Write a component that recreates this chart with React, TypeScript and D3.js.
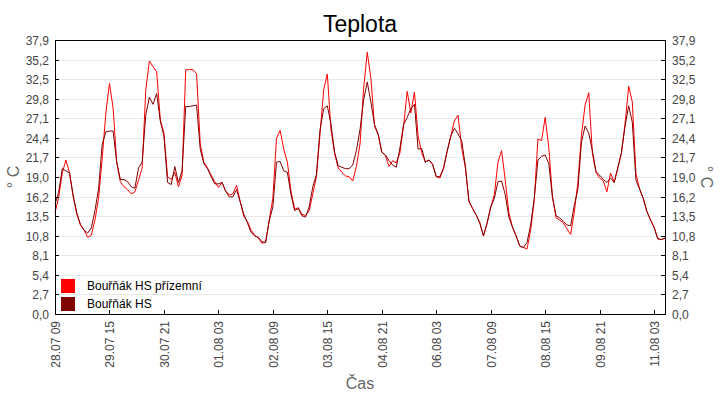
import * as d3 from "d3"
import React from "react"

// Teplota – two sensors, one reading every 2 hours from 28.07 09:00
const seriesNames = ["Bouřňák HS přízemní", "Bouřňák HS"]
const seriesColors = ["#ff0000", "#800000"]

const startLabel = "28.07 09"
const endLabel = "11.08 09"
const stepHours = 2

const prizemni = [
    14.0, 16.1, 19.5, 21.3, 19.5, 16.3, 13.8, 12.3, 11.6, 10.6, 10.9, 13.0, 16.0, 21.5, 27.8, 31.9, 28.5, 21.0, 18.3, 17.6, 17.2,
    16.6, 16.9, 18.5, 20.2, 31.0, 35.0, 34.2, 33.5, 26.9, 25.0, 19.0, 18.6, 19.6, 17.6, 19.2, 33.8, 33.8, 33.8, 33.2, 23.5, 21.0,
    20.2, 19.2, 18.3, 17.5, 18.2, 17.0, 16.5, 16.6, 17.8, 15.6, 13.5, 12.8, 11.6, 10.9, 10.5, 9.8, 9.9, 13.0, 16.0, 24.3, 25.4,
    22.8, 21.0, 17.0, 14.5, 14.7, 13.8, 13.6, 14.3, 16.6, 19.0, 25.0, 31.0, 33.2, 25.6, 22.2, 20.2, 19.6, 19.1, 19.0, 18.4, 20.4,
    23.5, 31.2, 36.2, 32.6, 26.0, 24.8, 22.4, 21.9, 20.4, 21.2, 20.9, 22.3, 26.0, 30.8, 27.8, 30.7, 24.6, 22.3, 21.0, 21.3, 20.7,
    19.0, 18.8, 20.1, 22.5, 24.6, 26.7, 27.5, 23.0, 20.3, 15.6, 14.6, 13.7, 12.6, 10.8, 12.5, 14.8, 16.5, 21.0, 22.6, 18.5, 14.0,
    12.0, 10.8, 9.4, 9.2, 9.0, 11.6, 15.8, 24.2, 24.0, 27.2, 23.0, 16.2, 13.3, 13.0, 12.6, 11.8, 11.0, 14.0, 18.2, 24.8, 28.9,
    30.6, 22.2, 19.6, 18.8, 18.4, 16.9, 19.5, 18.2, 20.2, 22.3, 26.3, 31.5, 29.3, 19.4, 17.3, 16.0, 14.2, 13.0, 12.0, 10.4, 10.3, 10.5
]

const hs = [
    15.2, 16.8, 20.1, 19.8, 19.5, 16.4, 14.0, 12.4, 11.6, 11.2, 11.9, 14.3, 17.3, 23.5, 25.2, 25.3, 25.3, 21.0, 18.6, 18.6, 18.3,
    17.6, 17.4, 20.2, 21.0, 27.5, 30.0, 29.0, 30.5, 26.7, 24.6, 18.2, 17.9, 20.4, 18.2, 19.8, 28.7, 28.7, 28.8, 28.9, 22.8, 20.8,
    20.1, 19.0, 18.0, 18.0, 18.2, 17.0, 16.2, 16.2, 17.2, 15.5, 13.8, 12.6, 11.3, 10.8, 10.6, 10.0, 9.9, 12.9, 14.8, 21.0, 21.1,
    19.8, 19.6, 16.5, 14.3, 14.6, 13.6, 13.4, 14.8, 17.6, 19.3, 25.5, 28.4, 28.8, 26.3, 22.4, 20.5, 20.3, 20.1, 20.1, 20.6, 22.6,
    25.5, 29.6, 32.1, 29.3, 26.2, 24.9, 22.4, 22.0, 21.2, 20.6, 20.3, 23.0, 26.2, 27.2, 28.4, 29.0, 22.8, 22.9, 21.0, 21.3, 20.7,
    19.0, 19.0, 20.2, 22.5, 24.6, 25.7, 24.9, 24.0, 20.5, 15.6, 14.6, 13.7, 12.6, 10.8, 12.6, 14.8, 16.0, 18.3, 18.4, 16.5, 13.4,
    12.0, 10.8, 9.4, 9.2, 9.9, 12.3, 16.0, 21.3, 21.8, 22.0, 20.8, 16.2, 13.6, 13.3, 12.8, 12.3, 12.2, 15.0, 17.2, 23.8, 26.0,
    25.0, 22.6, 19.7, 19.2, 18.6, 18.2, 18.8, 18.2, 20.2, 22.3, 26.0, 28.8, 26.5, 18.5, 17.3, 16.0, 14.2, 13.0, 12.0, 10.4, 10.3, 10.5
]

const xTickLabels = [
    "28.07 09", "29.07 15", "30.07 21", "01.08 03", "02.08 09", "03.08 15",
    "04.08 21", "06.08 03", "07.08 09", "08.08 15", "09.08 21", "11.08 03"
]

const yTickLabels = [
    "0,0", "2,7", "5,4", "8,1", "10,8", "13,5", "16,2", "19,0",
    "21,7", "24,4", "27,1", "29,8", "32,5", "35,2", "37,9"
]

const width = 720
const height = 400
const margin = { top: 40, right: 55, bottom: 86, left: 55 }
const font = "'Liberation Sans', Arial, sans-serif"

const parseLabel = (s: string) => d3.utcParse("%d.%m %H %Y")(s + " 2015") as Date
const parseNum = (s: string) => parseFloat(s.replace(",", "."))

const App = () => {
    const start = parseLabel(startLabel)
    const end = parseLabel(endLabel)

    const x = d3.scaleUtc()
        .domain([start, end])
        .range([margin.left, width - margin.right])

    const y = d3.scaleLinear()
        .domain([0, parseNum(yTickLabels[yTickLabels.length - 1])])
        .range([height - margin.bottom, margin.top])

    const line = d3.line<number>()
        .x((_, i) => x(d3.utcHour.offset(start, i * stepHours)))
        .y((d) => y(d))

    const left = margin.left
    const right = width - margin.right
    const top = margin.top
    const bottom = height - margin.bottom
    const midY = (top + bottom) / 2

    return (
        <svg width={width} height={height}
            style={{ position: "absolute", left: 0, top: 0, background: "#fff" }}
            fontFamily={font}>
            <text x={width / 2} y={32} textAnchor="middle" fontSize={23} fill="#000">Teplota</text>

            {/* grid */}
            {yTickLabels.map((t) => (
                <line key={"g" + t} x1={left} x2={right} y1={Math.round(y(parseNum(t))) + 0.5}
                    y2={Math.round(y(parseNum(t))) + 0.5} stroke="#e8e8e8" />
            ))}

            {/* series */}
            {[prizemni, hs].map((values, i) => (
                <path key={seriesNames[i]} d={line(values)} fill="none"
                    stroke={seriesColors[i]} strokeWidth={1} />
            ))}

            {/* frame */}
            <rect x={left + 0.5} y={top + 0.5} width={right - left} height={bottom - top}
                fill="none" stroke="#000" />

            {/* y ticks, both sides */}
            {yTickLabels.map((t) => {
                const yy = Math.round(y(parseNum(t))) + 0.5
                return (
                    <g key={"y" + t}>
                        <line x1={left} x2={left + 4} y1={yy} y2={yy} stroke="#000" />
                        <line x1={right - 4} x2={right} y1={yy} y2={yy} stroke="#000" />
                        <text x={left - 6} y={yy} dy="0.35em" textAnchor="end" fontSize={12} fill="#444">{t}</text>
                        <text x={right + 7} y={yy} dy="0.35em" textAnchor="start" fontSize={12} fill="#444">{t}</text>
                    </g>
                )
            })}

            {/* x ticks */}
            {xTickLabels.map((t) => {
                const xx = Math.round(x(parseLabel(t))) + 0.5
                return (
                    <g key={"x" + t}>
                        <line x1={xx} x2={xx} y1={bottom} y2={bottom - 4} stroke="#000" />
                        <text transform={`translate(${xx},${bottom + 7}) rotate(-90)`} dy="0.35em"
                            textAnchor="end" fontSize={12} fill="#444">{t}</text>
                    </g>
                )
            })}

            {/* axis titles */}
            <text transform={`translate(19,${midY}) rotate(-90)`} textAnchor="middle" fontSize={16} fill="#666">° C</text>
            <text transform={`translate(701,${midY}) rotate(90)`} textAnchor="middle" fontSize={16} fill="#666">° C</text>
            <text x={(left + right) / 2} y={389} textAnchor="middle" fontSize={16} fill="#666">Čas</text>

            {/* legend */}
            {seriesNames.map((name, i) => (
                <g key={"l" + name} transform={`translate(61,${279 + i * 18})`}>
                    <rect width={14} height={14} fill={seriesColors[i]} />
                    <text x={26} y={7} dy="0.35em" fontSize={12} fill="#000">{name}</text>
                </g>
            ))}
        </svg>
    )
}

export default App
